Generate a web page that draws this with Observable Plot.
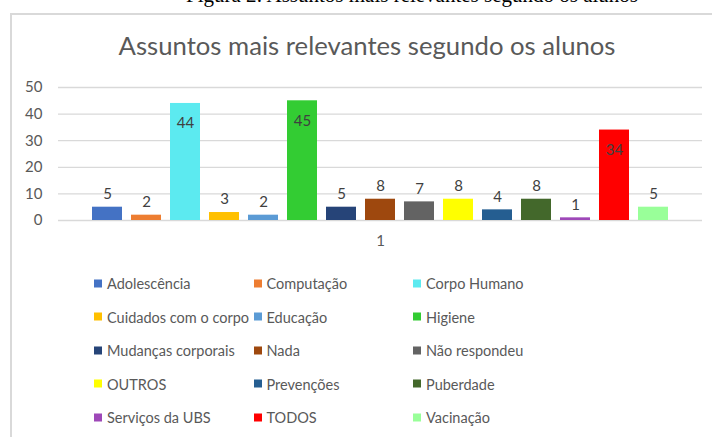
<!DOCTYPE html>
<html>
<head>
<meta charset="utf-8">
<script src="https://cdn.jsdelivr.net/npm/d3@7"></script>
<script src="https://cdn.jsdelivr.net/npm/@observablehq/plot@0.6"></script>
<style>
  html, body { margin: 0; padding: 0; background: #fff; }
  #page { position: relative; width: 712px; height: 437px; overflow: hidden; font-family: Lato, "Open Sans", sans-serif; }
  #caption { position: absolute; left: 0; width: 824px; top: -17px; text-align: center; font-family: "Liberation Serif", serif; font-size: 21px; color: #000; white-space: nowrap; }
  #frame { position: absolute; left: 10px; top: 13px; width: 720px; height: 440px; border-left: 2px solid #D9D9D9; border-top: 2px solid #D9D9D9; }
  #title { position: absolute; left: 0; width: 734px; top: 30px; text-align: center; font-size: 25.7px; color: #595959; white-space: nowrap; }
  #chart { position: absolute; left: 0; top: 0; }
  #legend { position: absolute; left: 0; top: 0; width: 712px; height: 437px; }
  .item { position: absolute; display: flex; align-items: center; font-size: 14.5px; color: #595959; white-space: nowrap; transform: translateY(-50%); }
  .sw { width: 8px; height: 8px; margin-right: 5px; display: inline-block; }
</style>
</head>
<body>
<div id="page">
  <div id="caption">Figura 2: Assuntos mais relevantes segundo os alunos</div>
  <div id="frame"></div>
  <div id="title">Assuntos mais relevantes segundo os alunos</div>
  <div id="chart"></div>
  <div id="legend"></div>
</div>
<script>
const categories = [
  "Adolescência", "Computação", "Corpo Humano",
  "Cuidados com o corpo", "Educação", "Higiene",
  "Mudanças corporais", "Nada", "Não respondeu",
  "OUTROS", "Prevenções", "Puberdade",
  "Serviços da UBS", "TODOS", "Vacinação"
];
const values = [5, 2, 44, 3, 2, 45, 5, 8, 7, 8, 4, 8, 1, 34, 5];
const colors = [
  "#4472C4", "#ED7D31", "#5CEAF0",
  "#FFC000", "#5B9BD5", "#33CC33",
  "#264478", "#9E480E", "#636363",
  "#FFFF00", "#255E91", "#43682B",
  "#9E48B8", "#FF0000", "#99FF99"
];
const yTicks = [0, 10, 20, 30, 40, 50];
const groupLabels = ["1"];

const data = categories.map((name, i) => ({group: groupLabels[0], name, value: values[i]}));

const chart = Plot.plot({
  width: 712,
  height: 260,
  marginLeft: 58,
  marginRight: 10,
  marginTop: 87,
  marginBottom: 40,
  style: {fontFamily: "Lato, 'Open Sans', sans-serif", fontSize: "15px", color: "#595959", background: "transparent", overflow: "visible"},
  fx: {domain: groupLabels, padding: 0, label: null, axis: "bottom", tickSize: 0, tickPadding: 15},
  x: {domain: categories, paddingInner: 0.23, paddingOuter: 0.87, axis: null},
  y: {domain: [0, 50], ticks: yTicks, tickSize: 0, tickPadding: 16, label: null},
  color: {domain: categories, range: colors},
  marks: [
    Plot.ruleY(yTicks, {stroke: "#D9D9D9", strokeWidth: 1.3}),
    Plot.barY(data, {fx: "group", x: "name", y: "value", fill: "name"}),
    Plot.text(data.filter(d => d.value < 30), {fx: "group", x: "name", y: "value", text: "value", dy: -13, fill: "#404040", fontSize: 15}),
    Plot.text(data.filter(d => d.value >= 30), {fx: "group", x: "name", y: "value", text: "value", dy: 20, fill: "#404040", fontSize: 15})
  ]
});
document.getElementById("chart").appendChild(chart);

const legend = document.getElementById("legend");
categories.forEach((name, i) => {
  const col = i % 3, row = Math.floor(i / 3);
  const item = document.createElement("div");
  item.className = "item";
  item.style.left = (94 + col * 159.5) + "px";
  item.style.top = (283 + row * 33.6) + "px";
  const sw = document.createElement("span");
  sw.className = "sw";
  sw.style.background = colors[i];
  item.appendChild(sw);
  item.appendChild(document.createTextNode(name));
  legend.appendChild(item);
});
</script>
</body>
</html>
